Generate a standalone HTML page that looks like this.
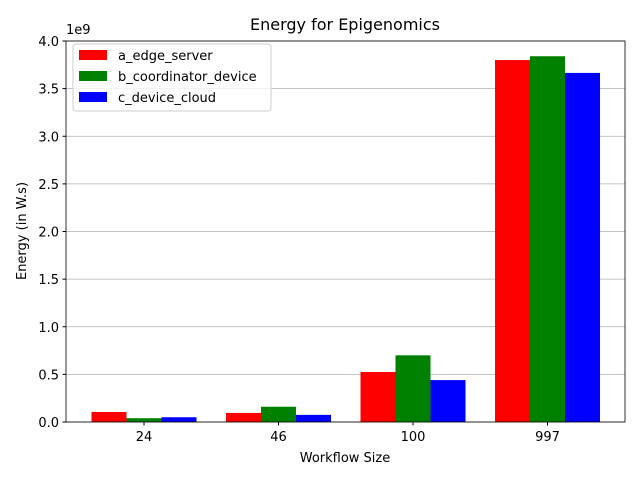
<!DOCTYPE html>
<html><head><meta charset="utf-8"><style>body{margin:0;background:#fff}svg{font-family:"DejaVu Sans","Liberation Sans",sans-serif}</style></head>
<body>
<svg id="c" width="640" height="480"></svg>
<script>
const categories=["24","46","100","997"];
const seriesNames=["a_edge_server","b_coordinator_device","c_device_cloud"];
const seriesColors=["#ff0000","#008000","#0000ff"];
const aEdge=[0.105,0.095,0.525,3.80];
const bCoord=[0.04,0.16,0.70,3.84];
const cCloud=[0.05,0.075,0.44,3.665];
const yTicks=[0,0.5,1.0,1.5,2.0,2.5,3.0,3.5,4.0];
const yTickLabels=["0.0","0.5","1.0","1.5","2.0","2.5","3.0","3.5","4.0"];
const series=[aEdge,bCoord,cCloud];
const NS="http://www.w3.org/2000/svg",svg=document.getElementById('c');
const L=66,R=625,T=41,B=422,yMax=4.0;
const y=v=>B-(v/yMax)*(B-T);
const step=134.5,first=144,bw=35;
const x=i=>first+i*step;
function mk(t,a,p){const e=document.createElementNS(NS,t);for(const k in a)e.setAttribute(k,a[k]);(p||svg).appendChild(e);return e;}
yTicks.forEach((v,i)=>{
 const g=mk('line',{x1:L,x2:R,y1:y(v),y2:y(v),stroke:'#b0b0b0','stroke-width':0.8});
 
 
 const tk=mk('line',{x1:L-3.5,x2:L,y1:y(v),y2:y(v),stroke:'#000'});
 
 
 const t=mk('text',{x:L-7,y:y(v)+5,'text-anchor':'end','font-size':13});t.textContent=yTickLabels[i];
 
 
});
series.forEach((s,si)=>{s.forEach((v,i)=>{
 const r=mk('rect',{x:x(i)+(si-1.5)*bw,y:y(v),width:bw,height:B-y(v),fill:seriesColors[si]});
 
 
});});
categories.forEach((c,i)=>{
 const tk=mk('line',{x1:x(i),x2:x(i),y1:B,y2:B+3.5,stroke:'#000'});
 
 
 const t=mk('text',{x:x(i),y:B+19,'text-anchor':'middle','font-size':13});t.textContent=c;
 
 
});
const fr=mk('rect',{x:L,y:T,width:R-L,height:B-T,fill:'none',stroke:'#000','stroke-width':0.8});


</script>
<svg width="640" height="480" style="position:absolute;left:0;top:0">
<text x="345" y="30" text-anchor="middle" font-size="16">Energy for Epigenomics</text>
<text x="66" y="34" font-size="13">1e9</text>
<text x="345" y="462" text-anchor="middle" font-size="13">Workflow Size</text>
<text transform="translate(26,231) rotate(-90)" text-anchor="middle" font-size="13">Energy (in W.s)</text>
<g>
<rect x="73" y="44" width="198" height="67" rx="3" fill="#fff" fill-opacity="0.8" stroke="#ccc"/>
<rect x="79" y="50" width="28" height="10" fill="#ff0000"/><text x="118" y="60" font-size="13">a_edge_server</text>
<rect x="79" y="71" width="28" height="10" fill="#008000"/><text x="118" y="81" font-size="13">b_coordinator_device</text>
<rect x="79" y="92" width="28" height="10" fill="#0000ff"/><text x="118" y="102" font-size="13">c_device_cloud</text>
</g>
</svg>
</body></html>
